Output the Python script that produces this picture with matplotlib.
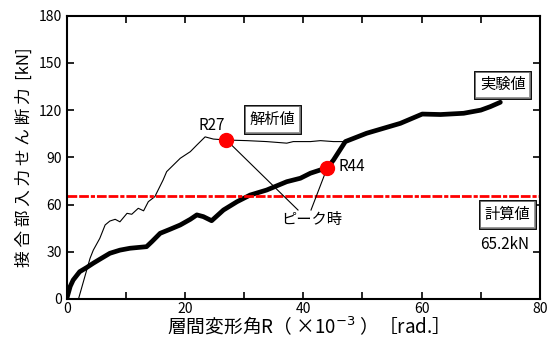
import matplotlib.pyplot as plt
import matplotlib.patheffects as pe

plt.rcParams['font.family'] = ['Noto Sans CJK JP', 'DejaVu Sans']

# 実験値 (experiment)
exp_R = [0, 0.3, 0.6, 1.1, 2.2, 3.4, 4.5, 5.6, 7.3, 9.0, 10.7, 13.5, 14.4, 15.8,
         17.5, 19.2, 20.9, 22.0, 23.1, 24.5, 26.5, 28.8, 31.0, 33.8, 37.2, 39.5,
         41.2, 42.9, 44.0, 45.1, 47.1, 50.7, 56.4, 60.1, 63.2, 67.1, 70.0, 71.6, 73.3]
exp_Q = [0, 4, 8, 12, 17.3, 20, 22.7, 25.2, 29, 31, 32.2, 33.2, 36.4, 41.7,
         44.3, 47, 50.6, 53.4, 52.3, 49.7, 56.5, 61.8, 66, 69.2, 74.5, 76.7,
         79.9, 82, 83, 88.3, 100, 105.3, 111.6, 117.5, 117.2, 118, 120, 122.2, 125]

# 解析値 (analysis)
ana_R = [2.0, 3.95, 4.5, 5.6, 6.5, 7.3, 8.2, 9.0, 10.2, 11.0, 12.1, 13.0, 13.8,
         14.9, 16.3, 16.9, 19.2, 20.9, 22.0, 23.4, 24.8, 27.0, 30.5, 33.8, 37.2,
         38.3, 41.2, 42.9, 45.1, 47.1]
ana_Q = [0, 25.8, 31, 38.5, 47, 49.5, 50.6, 49, 54.4, 53.8, 57.6, 56, 61.8,
         65, 75.6, 80.9, 89.4, 93.6, 97.8, 103, 101.6, 101, 100.6, 100, 99,
         100, 100, 100.6, 100, 100]

# 計算値
Q_calc = 65.2

# peak points
peak_R = [27.0, 44.0]
peak_Q = [101.0, 83.0]
peak_labels = ["R27", "R44"]

fig = plt.figure(figsize=(5.51, 3.42), dpi=100)
ax = fig.add_axes([0.121, 0.126, 0.859, 0.828])

ax.plot(ana_R, ana_Q, color='black', linewidth=0.8)
ax.plot(exp_R, exp_Q, color='black', linewidth=3.4, solid_capstyle='round')
ax.axhline(Q_calc, color='red', linewidth=2.0,
           dashes=(3.5, 0.7, 3.5, 0.7, 1.5, 0.7))

# callout lines to ピーク時
txt_xy = (41.5, 50.5)
ax.plot([peak_R[0], 39.1], [peak_Q[0], 56.5], color='black', linewidth=0.8)
ax.plot([peak_R[1], 41.3], [peak_Q[1], 56.5], color='black', linewidth=0.8)
ax.plot(peak_R, peak_Q, 'o', color='red', markersize=10, zorder=5)

ax.text(peak_R[0] - 0.3, peak_Q[0] + 4, peak_labels[0], ha='right', va='bottom', fontsize=11)
ax.text(peak_R[1] + 2.0, peak_Q[1] + 1, peak_labels[1], ha='left', va='center', fontsize=11)
ax.text(txt_xy[0], txt_xy[1], "ピーク時", ha='center', va='center', fontsize=11)


def boxed(x, y, s):
    t = ax.text(x, y, s, ha='center', va='center', fontsize=11,
                bbox=dict(boxstyle='square,pad=0.25', facecolor='white',
                          edgecolor='black', linewidth=1))
    t.get_bbox_patch().set_path_effects([
        pe.Stroke(linewidth=3.5, foreground='black'),
        pe.Stroke(linewidth=1.8, foreground='#9a9a9a'),
        pe.Normal(),
    ])
    t.get_bbox_patch().set_linewidth(0)
    return t


boxed(34.8, 114, "解析値")
boxed(73.7, 136, "実験値")
boxed(74.5, 53.5, "計算値")
ax.text(74.1, 34.5, "65.2kN", ha='center', va='center', fontsize=11)

ax.set_xlim(0, 80)
ax.set_ylim(0, 180)
ax.set_xticks(range(0, 81, 20))
ax.set_xticks(range(0, 81, 10), minor=True)
ax.set_yticks(range(0, 181, 30))
ax.tick_params(which='both', direction='in', top=True, right=True,
               length=5, width=1.2, labelsize=10)
ax.tick_params(axis='x', pad=2)
for s in ax.spines.values():
    s.set_linewidth(1.5)

ax.set_xlabel("層間変形角R（ ×10$^{-3}$ ）［rad.］", fontsize=13.5, labelpad=0)
ax.set_ylabel("接 合 部 入 力 せ ん 断 力  [kN]", fontsize=12, labelpad=4)

fig.savefig("out.png", dpi=100)
